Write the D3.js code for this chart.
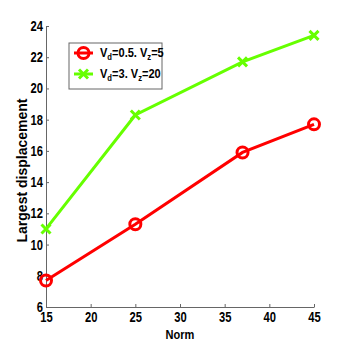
<!DOCTYPE html>
<html>
<head>
<meta charset="utf-8">
<script src="https://cdn.jsdelivr.net/npm/d3@7"></script>
<style>
  body { margin: 0; background: #fff; }
  text { font-family: "Liberation Sans", Arial, sans-serif; font-weight: bold; }
</style>
</head>
<body>
<div id="chart"></div>
<script>
// Data
var norms = [15, 25, 37, 45];
var redVals = [7.7, 11.3, 15.9, 17.7];
var greenVals = [11.0, 18.3, 21.7, 23.4];
var xTicks = [15, 20, 25, 30, 35, 40, 45];
var yTicks = [6, 8, 10, 12, 14, 16, 18, 20, 22, 24];
var seriesNames = ["V_d=0.5. V_z=5", "V_d=3. V_z=20"];

var W = 346, H = 346;
var margin = { top: 26, right: 32, bottom: 39, left: 46 },
    width = W - margin.left - margin.right,
    height = H - margin.top - margin.bottom;

var squeeze = 0.8; // narrow look of the original font

var svg = d3.select("#chart")
  .append("svg")
    .attr("width", W)
    .attr("height", H)
  .append("g")
    .attr("transform", "translate(" + margin.left + "," + margin.top + ")");

var x = d3.scaleLinear().domain([15, 45]).range([0, width]);
var y = d3.scaleLinear().domain([6, 24]).range([height, 0]);

// Axes with inward ticks
var xAxis = svg.append("g")
  .attr("transform", "translate(0," + height + ")")
  .call(d3.axisBottom(x).tickValues(xTicks).tickSizeInner(-3).tickSizeOuter(0).tickPadding(6));
var yAxis = svg.append("g")
  .call(d3.axisLeft(y).tickValues(yTicks).tickSizeInner(-3).tickSizeOuter(0).tickPadding(3));

[xAxis, yAxis].forEach(function(a) {
  a.selectAll("path, line").attr("stroke", "#666").attr("stroke-width", 1);
  a.selectAll("text").attr("font-size", "14px").attr("fill", "#000")
    .attr("font-family", "'Liberation Sans', Arial, sans-serif")
    .attr("font-weight", "bold")
    .attr("transform", "scale(" + squeeze + ",1)");
});
xAxis.selectAll("text").attr("y", 5).attr("dy", "0.71em");
yAxis.selectAll("text").attr("x", -3 / squeeze);

// Axis labels
svg.append("text")
  .attr("text-anchor", "middle")
  .attr("font-size", "13px")
  .attr("transform", "translate(" + (width / 2) + "," + (height + 32) + ") scale(0.85,1)")
  .text("Norm");

svg.append("text")
  .attr("text-anchor", "middle")
  .attr("font-size", "14px")
  .attr("transform", "translate(" + (-19) + "," + (height / 2 + 4) + ") rotate(-90)")
  .text("Largest displacement");

var line = d3.line()
  .x(function(d, i) { return x(norms[i]); })
  .y(function(d) { return y(d); });

// Green series
svg.append("path")
  .datum(greenVals)
  .attr("fill", "none")
  .attr("stroke", "#66ff00")
  .attr("stroke-width", 3)
  .attr("d", line);

function cross(g, cx, cy, color) {
  var s = 4.5;
  g.append("path")
    .attr("d", "M" + (cx - s) + "," + (cy - s) + "L" + (cx + s) + "," + (cy + s) +
               "M" + (cx - s) + "," + (cy + s) + "L" + (cx + s) + "," + (cy - s))
    .attr("stroke", color)
    .attr("stroke-width", 3)
    .attr("fill", "none");
}

greenVals.forEach(function(d, i) { cross(svg, x(norms[i]), y(d), "#66ff00"); });

// Red series
svg.append("path")
  .datum(redVals)
  .attr("fill", "none")
  .attr("stroke", "#ff0000")
  .attr("stroke-width", 3)
  .attr("d", line);

svg.selectAll(".redpt")
  .data(redVals)
  .enter()
  .append("circle")
    .attr("class", "redpt")
    .attr("cx", function(d, i) { return x(norms[i]); })
    .attr("cy", function(d) { return y(d); })
    .attr("r", 5.5)
    .attr("fill", "none")
    .attr("stroke", "#ff0000")
    .attr("stroke-width", 3);

// Legend
var leg = svg.append("g").attr("transform", "translate(23,17)");
leg.append("rect")
  .attr("width", 93)
  .attr("height", 46)
  .attr("fill", "#fff")
  .attr("stroke", "#666")
  .attr("stroke-width", 1);

var colors = ["#ff0000", "#66ff00"];
seriesNames.forEach(function(name, i) {
  var ly = 10 + i * 21;
  leg.append("line")
    .attr("x1", 5).attr("x2", 24)
    .attr("y1", ly).attr("y2", ly)
    .attr("stroke", colors[i])
    .attr("stroke-width", 3);
  if (i === 0) {
    leg.append("circle")
      .attr("cx", 14.5).attr("cy", ly).attr("r", 5.5)
      .attr("fill", "none").attr("stroke", colors[i]).attr("stroke-width", 3);
  } else {
    cross(leg, 14.5, ly, colors[i]);
  }
  var parts = name.split(". ");
  var t = leg.append("text")
    .attr("font-size", "13px")
    .attr("transform", "translate(31," + (ly + 4) + ") scale(0.85,1)");
  parts.forEach(function(p, j) {
    var sym = p.split("_")[0];
    var rest = p.split("_")[1];
    var sub = rest.split("=")[0];
    var val = rest.split("=")[1];
    t.append("tspan").text((j > 0 ? ". " : "") + sym);
    t.append("tspan").attr("font-size", "9px").attr("dy", 3).text(sub);
    t.append("tspan").attr("dy", -3).text("=" + val);
  });
});
</script>
</body>
</html>
